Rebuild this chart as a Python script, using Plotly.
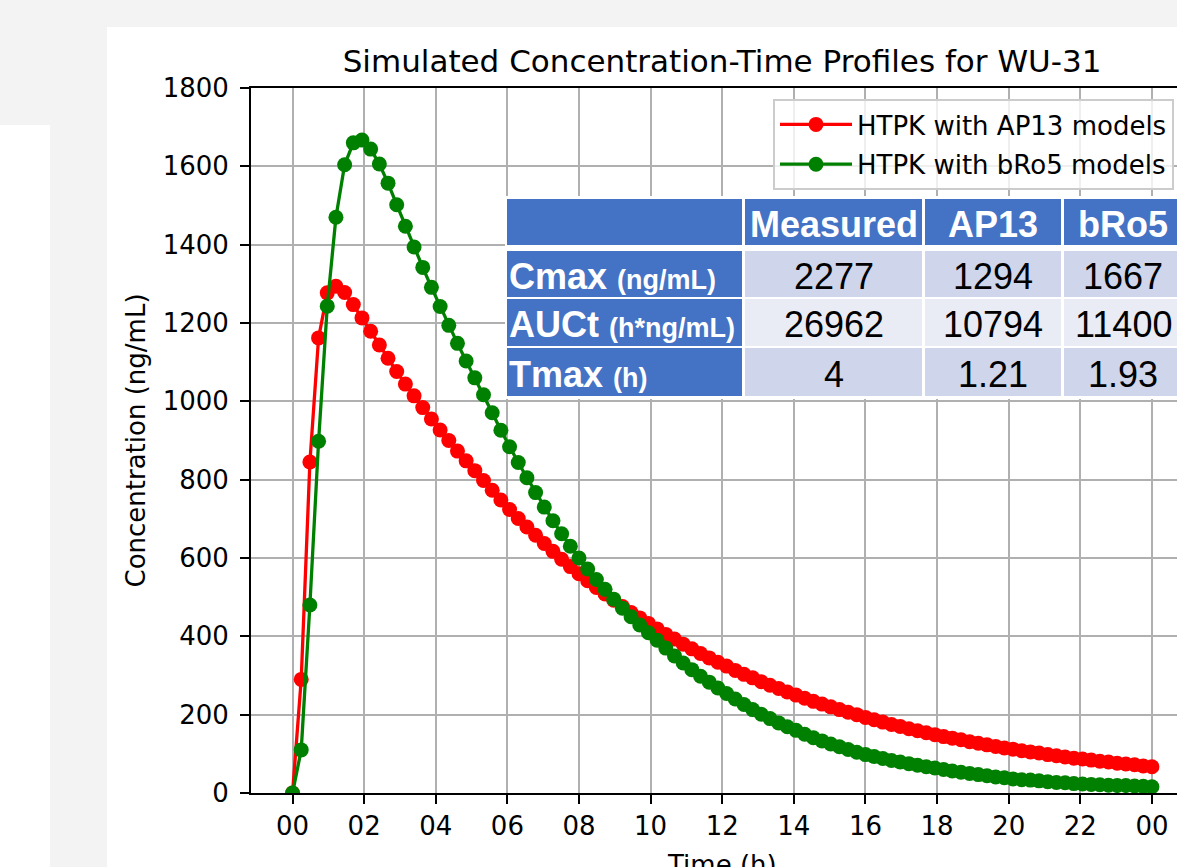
import numpy as np
import plotly.graph_objects as go

# ---------------- data ----------------
# simulation time grid (h): 100 samples over 24 h
time_h = np.linspace(0, 24, 100)

ap13_conc = [0, 290, 845, 1162, 1277, 1294, 1278, 1247, 1213, 1179,
             1144, 1110, 1076, 1044, 1014, 984, 955, 927, 900, 873,
             848, 823, 798, 773, 748, 724, 701, 679, 658, 637,
             617, 597, 578, 560, 542, 525, 508, 492, 476, 461,
             447, 433, 419, 405, 393, 380, 368, 356, 345, 334,
             324, 313, 303, 294, 284, 275, 267, 258, 250, 242,
             234, 227, 220, 213, 206, 200, 193, 187, 181, 175,
             170, 164, 159, 154, 149, 144, 140, 136, 131, 127,
             123, 119, 115, 112, 108, 105, 102, 98, 95, 92,
             89, 87, 84, 81, 79, 76, 74, 72, 69, 67]

bro5_conc = [0, 110, 480, 898, 1243, 1470, 1604, 1660, 1667, 1644,
             1606, 1557, 1502, 1447, 1394, 1342, 1291, 1242, 1194, 1148,
             1103, 1060, 1017, 971, 926, 884, 844, 805, 767, 730,
             695, 662, 630, 600, 572, 545, 520, 495, 472, 450,
             429, 409, 390, 370, 350, 332, 315, 298, 283, 268,
             254, 240, 226, 213, 201, 190, 179, 169, 160, 150,
             141, 133, 125, 118, 111, 104, 98, 93, 88, 83,
             79, 75, 71, 67, 64, 60, 56, 53, 50, 47,
             44, 41, 39, 36, 34, 33, 31, 29, 27, 26,
             24, 23, 22, 21, 20, 19, 19, 18, 17, 16]

series_names = ["HTPK with AP13 models", "HTPK with bRo5 models"]

x_tick_vals = [0, 2, 4, 6, 8, 10, 12, 14, 16, 18, 20, 22, 24]
x_tick_text = ["00", "02", "04", "06", "08", "10", "12", "14", "16", "18", "20", "22", "00"]
y_tick_vals = [0, 200, 400, 600, 800, 1000, 1200, 1400, 1600, 1800]

x_title = "Time (h)"
y_title = "Concentration (ng/mL)"
chart_title = "Simulated Concentration-Time Profiles for WU-31"

table_header = ["", "Measured", "AP13", "bRo5"]
table_row_names = ["Cmax", "AUCt", "Tmax"]
table_row_units = ["(ng/mL)", "(h*ng/mL)", "(h)"]
table_values = [["2277", "1294", "1667"],
                ["26962", "10794", "11400"],
                ["4", "1.21", "1.93"]]

# ---------------- layout helpers ----------------
W, H = 1177, 867
L, R, T, B = 251, 1177, 88, 793


def px_x(px):
    return (px - L) / (R - L)


def px_y(py):
    return (B - py) / (B - T)


FONT = "DejaVu Sans"
TFONT = "Liberation Sans, Arial, sans-serif"

fig = go.Figure()
fig.add_trace(go.Scatter(x=time_h, y=ap13_conc, mode="lines+markers",
                         name=series_names[0], legendgroup="a",
                         line=dict(color="#ff0000", width=3.3),
                         marker=dict(color="#ff0000", size=15)))
fig.add_trace(go.Scatter(x=time_h, y=bro5_conc, mode="lines+markers",
                         name=series_names[1], legendgroup="b",
                         line=dict(color="#008000", width=3.3),
                         marker=dict(color="#008000", size=15)))

shapes = []
# page background pieces (screenshot surroundings)
GRAY = "#f3f3f3"
shapes.append(dict(type="rect", xref="paper", yref="paper", layer="below",
                   x0=px_x(0), x1=px_x(W), y0=px_y(0), y1=px_y(27),
                   fillcolor=GRAY, line=dict(width=0)))
shapes.append(dict(type="rect", xref="paper", yref="paper", layer="below",
                   x0=px_x(0), x1=px_x(107), y0=px_y(0), y1=px_y(125),
                   fillcolor=GRAY, line=dict(width=0)))
shapes.append(dict(type="rect", xref="paper", yref="paper", layer="below",
                   x0=px_x(50), x1=px_x(107), y0=px_y(0), y1=px_y(H),
                   fillcolor=GRAY, line=dict(width=0)))

# table image
shapes.append(dict(type="rect", xref="paper", yref="paper", layer="above",
                   x0=px_x(505), x1=px_x(1185), y0=px_y(196), y1=px_y(399),
                   fillcolor="white", line=dict(width=0)))
col_edges = [(507, 742), (745, 922), (925, 1061), (1064, 1182)]
row_edges = [(199, 245), (251, 297), (299, 346), (348, 396)]
BLUE = "#4472C4"
data_fills = ["#CFD5EA", "#E9EBF5", "#CFD5EA"]
for r, (y0, y1) in enumerate(row_edges):
    for c, (x0, x1) in enumerate(col_edges):
        if r == 0 or c == 0:
            fill = BLUE
        else:
            fill = data_fills[r - 1]
        shapes.append(dict(type="rect", xref="paper", yref="paper", layer="above",
                           x0=px_x(x0), x1=px_x(x1), y0=px_y(y0), y1=px_y(y1),
                           fillcolor=fill, line=dict(width=0)))

annotations = []
for c in range(1, 4):
    xc = (col_edges[c][0] + col_edges[c][1]) / 2
    yc = (row_edges[0][0] + row_edges[0][1]) / 2 + 3
    annotations.append(dict(xref="paper", yref="paper", x=px_x(xc), y=px_y(yc),
                            xanchor="center", yanchor="middle", showarrow=False,
                            text="<b>" + table_header[c] + "</b>",
                            font=dict(family=TFONT, size=36, color="white")))
for r in range(3):
    yc = (row_edges[r + 1][0] + row_edges[r + 1][1]) / 2 + 2
    annotations.append(dict(xref="paper", yref="paper", x=px_x(507), y=px_y(yc),
                            xanchor="left", yanchor="middle", showarrow=False,
                            text="<b>" + table_row_names[r] + "</b> <b><span style='font-size:27px'>"
                                 + table_row_units[r] + "</span></b>",
                            font=dict(family=TFONT, size=36, color="white")))
    for c in range(1, 4):
        xc = (col_edges[c][0] + col_edges[c][1]) / 2
        annotations.append(dict(xref="paper", yref="paper", x=px_x(xc), y=px_y(yc),
                                xanchor="center", yanchor="middle", showarrow=False,
                                text=table_values[r][c - 1],
                                font=dict(family=TFONT, size=36, color="black")))

# x-axis title (sits partly below the visible page, as in the reference)
annotations.append(dict(xref="paper", yref="paper", x=px_x(722), y=px_y(848),
                        xanchor="center", yanchor="top", showarrow=False,
                        text=x_title, font=dict(family=FONT, size=26, color="black")))

fig.update_layout(
    width=W, height=H,
    margin=dict(l=L, r=W - R, t=T, b=H - B, autoexpand=False),
    paper_bgcolor="white", plot_bgcolor="white",
    font=dict(family=FONT, size=26, color="black"),
    title=dict(text=chart_title,
               font=dict(family=FONT, size=31, color="black"),
               xref="paper", x=px_x(722), xanchor="center",
               yref="container", y=1 - 61 / H, yanchor="middle"),
    showlegend=True,
    legend=dict(x=px_x(773), y=px_y(99), xanchor="left", yanchor="top",
                bgcolor="rgba(255,255,255,0.8)", bordercolor="#cccccc", borderwidth=2,
                font=dict(family=FONT, size=26, color="black"),
                itemwidth=72, traceorder="grouped", tracegroupgap=3),
    shapes=shapes,
    annotations=annotations,
)

fig.update_xaxes(range=[-1.16, 24.70], tickmode="array", tickvals=x_tick_vals,
                 ticktext=x_tick_text, ticks="outside", ticklen=9, tickwidth=2,
                 tickcolor="black", showline=True, linecolor="black", linewidth=2,
                 mirror=True, showgrid=True, gridcolor="#b0b0b0", gridwidth=2,
                 zeroline=False, tickfont=dict(family=FONT, size=26, color="black"))
fig.update_yaxes(range=[0, 1800], tickmode="array", tickvals=y_tick_vals,
                 ticks="outside", ticklen=9, tickwidth=2, tickcolor="black",
                 showline=True, linecolor="black", linewidth=2, mirror=False,
                 showgrid=True, gridcolor="#b0b0b0", gridwidth=2, zeroline=False,
                 ticklabelstandoff=6,
                 tickfont=dict(family=FONT, size=26, color="black"),
                 title=dict(text=y_title,
                            font=dict(family=FONT, size=26, color="black"),
                            standoff=10))

fig.write_html("out.html", config={"displayModeBar": False},
               post_script="document.body.style.margin='0';")
